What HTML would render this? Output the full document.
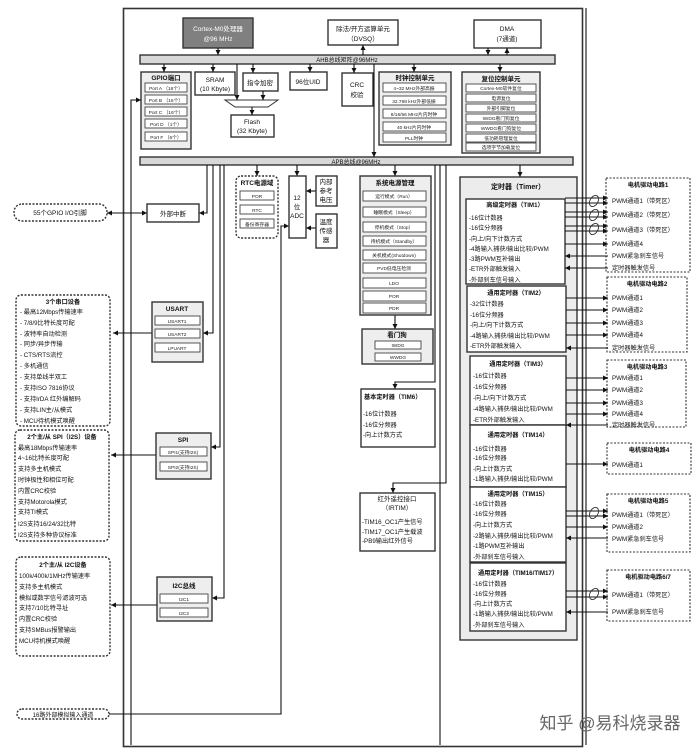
<!DOCTYPE html>
<html><head><meta charset="utf-8"><style>
html,body{margin:0;padding:0;background:#fff;}
svg{display:block;font-family:"Liberation Sans","Noto Sans CJK SC",sans-serif;}
</style></head><body>
<svg width="692" height="754" viewBox="0 0 692 754" xmlns="http://www.w3.org/2000/svg">
<defs>
<marker id="a" markerWidth="6" markerHeight="6" refX="5" refY="3" orient="auto" markerUnits="userSpaceOnUse"><path d="M0,0.5 L5,3 L0,5.5z" fill="#111"/></marker>
</defs>
<g stroke="#333" stroke-width="1" fill="none">
<rect x="123.5" y="8.5" width="459" height="738" stroke-width="1.6"/>
</g>
<g stroke="#333" stroke-width="1.4">
<rect x="183" y="18" width="70" height="30" fill="#808080"/>
<rect x="328" y="20" width="70" height="25" fill="#fff"/>
<rect x="474" y="20" width="67" height="28" fill="#fff"/>
<rect x="140" y="55" width="415" height="9" fill="#d8d8d8"/>
<rect x="140" y="157" width="433" height="8" fill="#d8d8d8"/>
<rect x="141" y="72" width="50" height="77" fill="#eee"/>
<rect x="195" y="72" width="40" height="23" fill="#fff"/>
<rect x="243" y="73" width="35" height="18" fill="#fff"/>
<rect x="231" y="115" width="43" height="22" fill="#fff"/>
<rect x="290" y="72" width="37" height="18" fill="#fff"/>
<rect x="342" y="73" width="31" height="33" fill="#fff"/>
<rect x="379" y="72" width="72" height="73" fill="#eee"/>
<rect x="462" y="72" width="78" height="81" fill="#eee"/>
</g>
<path d="M225,100 L278,100 L268,107 L235,107z" fill="#fff" stroke="#333"/>
<g stroke="#444" stroke-width="0.9" fill="#fff">
<rect x="145" y="83" width="42" height="9"/><rect x="145" y="95" width="42" height="9"/><rect x="145" y="107" width="42" height="9"/><rect x="145" y="119" width="42" height="9"/><rect x="145" y="132" width="42" height="9"/>
<rect x="383" y="83" width="63" height="9"/><rect x="383" y="96" width="63" height="9"/><rect x="383" y="109" width="63" height="9"/><rect x="383" y="122" width="63" height="9"/><rect x="383" y="133" width="63" height="9"/>
<rect x="466" y="84" width="70" height="8"/><rect x="466" y="94" width="70" height="8"/><rect x="466" y="104" width="70" height="8"/><rect x="466" y="114" width="70" height="8"/><rect x="466" y="124" width="70" height="8"/><rect x="466" y="134" width="70" height="8"/><rect x="466" y="143" width="70" height="8"/>
</g>
<g font-size="6.5" fill="#111" text-anchor="middle">
<text x="218" y="31" fill="#fff">Cortex-M0处理器</text><text x="218" y="41" fill="#fff">@96 MHz</text>
<text x="363" y="31">除法/开方运算单元</text><text x="363" y="41">（DVSQ）</text>
<text x="507" y="31">DMA</text><text x="507" y="41">(7通道)</text>
<text x="347" y="62" font-size="6">AHB总线矩阵@96MHz</text>
<text x="356" y="164" font-size="6">APB总线@96MHz</text>
<text x="166" y="80" font-weight="bold">GPIO端口</text>
<text x="215" y="82">SRAM</text><text x="215" y="91">(10 Kbyte)</text>
<text x="260" y="85">指令加密</text>
<text x="252" y="124">Flash</text><text x="252" y="133">(32 Kbyte)</text>
<text x="308" y="84">96位UID</text>
<text x="357" y="87">CRC</text><text x="357" y="97">校验</text>
<text x="415" y="80" font-weight="bold">时钟控制单元</text>
<text x="501" y="81" font-weight="bold">复位控制单元</text>
</g>
<g font-size="4.8" fill="#222" text-anchor="middle">
<text x="166" y="90">Port A （16个）</text><text x="166" y="102">Port B （16个）</text><text x="166" y="114">Port C （16个）</text><text x="166" y="126">Port D （1个）</text><text x="166" y="139">Port F （6个）</text>
<text x="414" y="90">4~32 MHz外部高振</text><text x="414" y="103">32.768 kHz外部低振</text><text x="414" y="116">8/16/56 MHz片内时钟</text><text x="414" y="129">40 kHz片内时钟</text><text x="414" y="140">PLL时钟</text>
<text x="501" y="90">Cortex-M0软件复位</text><text x="501" y="100">电源复位</text><text x="501" y="110">外部引脚复位</text><text x="501" y="120">IWDG看门狗复位</text><text x="501" y="130">WWDG看门狗复位</text><text x="501" y="140">低功耗管理复位</text><text x="501" y="149">选项字节加载复位</text>
</g>
<g stroke="#111" stroke-width="1.1" fill="none" marker-end="url(#a)">
<line x1="218" y1="48" x2="218" y2="55"/>
<line x1="363" y1="55" x2="363" y2="45"/>
<line x1="488" y1="48" x2="488" y2="55"/>
<line x1="507" y1="55" x2="507" y2="48"/>
<line x1="164" y1="64" x2="164" y2="72"/>
<line x1="213" y1="64" x2="213" y2="72"/>
<line x1="253" y1="64" x2="253" y2="73"/>
<line x1="310" y1="64" x2="310" y2="72"/>
<line x1="354" y1="64" x2="354" y2="73"/>
<line x1="414" y1="64" x2="414" y2="72"/>
<line x1="500" y1="64" x2="500" y2="72"/>
<line x1="237" y1="64" x2="237" y2="100"/>
<line x1="263" y1="91" x2="263" y2="100"/>
<line x1="252" y1="107" x2="252" y2="115"/>
<line x1="374" y1="64" x2="374" y2="157"/>
<path d="M131,745 L131,100 L141,100"/>
<line x1="257" y1="165" x2="257" y2="176"/>
<line x1="297" y1="165" x2="297" y2="176"/>
<line x1="395" y1="165" x2="395" y2="176"/>
<line x1="520" y1="165" x2="520" y2="177"/>
<path d="M207,165 L207,213 L199,213"/>
<path d="M213,165 L213,333 L203,333"/>
<path d="M224,165 L224,598 L212,598"/>
<path d="M220,165 L220,447 L211,447"/>
<line x1="152" y1="333" x2="113" y2="333"/>
<line x1="156" y1="455" x2="111" y2="455"/>
<line x1="157" y1="605" x2="111" y2="605"/>
<line x1="316" y1="191" x2="306" y2="191"/>
<line x1="316" y1="228" x2="306" y2="228"/>
<path d="M109,714 L281,714 L281,226 L289,226"/>
<line x1="395" y1="315" x2="395" y2="329"/>
<path d="M435,165 L435,382 L395,382 L395,389"/>
<path d="M446,165 L446,483 L393,483 L393,493"/>
</g>
<line x1="440" y1="165" x2="440" y2="745" stroke="#111" stroke-width="1.1"/>
<line x1="586" y1="8" x2="586" y2="745" stroke="#111" stroke-width="1.1"/>
<g stroke="#111" fill="none" marker-end="url(#a)"><line x1="137" y1="213" x2="147" y2="213"/><line x1="137" y1="213" x2="107" y2="213"/></g>
<g stroke="#333" stroke-width="1.4" fill="#fff">
<rect x="147" y="204" width="52" height="18"/>
<rect x="236" y="176" width="42" height="62" rx="5" stroke-dasharray="2,1.5"/>
<rect x="289" y="176" width="17" height="62"/>
<rect x="316" y="176" width="21" height="30"/>
<rect x="316" y="214" width="21" height="34"/>
<rect x="360" y="176" width="71" height="139" fill="#eee"/>
<rect x="362" y="329" width="71" height="35" fill="#eee"/>
<rect x="361" y="389" width="74" height="58"/>
<rect x="360" y="493" width="75" height="58"/>
<rect x="152" y="302" width="51" height="60" fill="#eee"/>
<rect x="156" y="433" width="55" height="46" fill="#eee"/>
<rect x="157" y="577" width="55" height="44" fill="#eee"/>
<rect x="14" y="204" width="93" height="17" rx="8" stroke-dasharray="2,1.5"/>
<rect x="16" y="295" width="94" height="131" rx="5" stroke-dasharray="2,1.5"/>
<rect x="15" y="430" width="94" height="111" rx="5" stroke-dasharray="2,1.5"/>
<rect x="16" y="557" width="94" height="99" rx="5" stroke-dasharray="2,1.5"/>
<rect x="17" y="709" width="92" height="10" rx="5" stroke-dasharray="2,1.5"/>
</g>
<g stroke="#444" stroke-width="0.9" fill="#fff">
<rect x="240" y="191" width="34" height="9"/><rect x="240" y="205" width="34" height="9"/><rect x="240" y="219" width="34" height="9"/>
<rect x="363" y="191" width="63" height="10"/><rect x="363" y="207" width="63" height="10"/><rect x="363" y="222" width="63" height="10"/><rect x="363" y="236" width="63" height="10"/><rect x="363" y="250" width="63" height="10"/><rect x="363" y="263" width="63" height="10"/><rect x="363" y="278" width="63" height="10"/><rect x="363" y="291" width="63" height="10"/><rect x="363" y="303" width="63" height="10"/>
<rect x="375" y="341" width="46" height="8"/><rect x="375" y="353" width="46" height="8"/>
<rect x="155" y="316" width="45" height="9"/><rect x="155" y="329" width="45" height="9"/><rect x="155" y="343" width="45" height="9"/>
<rect x="160" y="447" width="47" height="9"/><rect x="160" y="462" width="47" height="9"/>
<rect x="160" y="594" width="48" height="9"/><rect x="160" y="608" width="48" height="9"/>
</g>
<g font-size="6.5" fill="#111" text-anchor="middle">
<text x="173" y="216">外部中断</text>
<text x="60" y="215">55个GPIO I/O引脚</text>
<text x="257" y="185" font-weight="bold">RTC电源域</text>
<text x="297" y="200">12</text><text x="297" y="209">位</text><text x="297" y="218">ADC</text>
<text x="326" y="184">内部</text><text x="326" y="193">参考</text><text x="326" y="202">电压</text>
<text x="326" y="224">温度</text><text x="326" y="233">传感</text><text x="326" y="242">器</text>
<text x="395" y="185" font-weight="bold">系统电源管理</text>
<text x="397" y="337" font-weight="bold">看门狗</text>
<text x="177" y="311" font-weight="bold">USART</text>
<text x="183" y="442" font-weight="bold">SPI</text>
<text x="184" y="588" font-weight="bold">I2C总线</text>
<text x="397" y="501">红外遥控接口</text><text x="397" y="510">（IRTIM）</text>
<text x="63" y="717" font-size="6">16路外部模拟输入通道</text>
</g>
<g font-size="4.8" fill="#222" text-anchor="middle">
<text x="257" y="198">POR</text><text x="257" y="212">RTC</text><text x="257" y="226">备份寄存器</text>
<text x="394" y="198">运行模式（Run）</text><text x="394" y="214">睡眠模式（Sleep）</text><text x="394" y="229">停机模式（Stop）</text><text x="394" y="243">待机模式（Standby）</text><text x="394" y="257">关机模式(Shutdown)</text><text x="394" y="270">PVD低电压检测</text><text x="394" y="285">LDO</text><text x="394" y="298">POR</text><text x="394" y="310">PDR</text>
<text x="398" y="347">IWDG</text><text x="398" y="359">WWDG</text>
<text x="177" y="323">USART1</text><text x="177" y="336">USART2</text><text x="177" y="350">LPUART</text>
<text x="183" y="454">SPI1(支持I2S)</text><text x="183" y="469">SPI2(支持I2S)</text>
<text x="184" y="601">I2C1</text><text x="184" y="615">I2C2</text>
</g>
<g font-size="6.2" fill="#111">
<text x="364" y="399" font-weight="bold">基本定时器（TIM6）</text>
<text x="363" y="416">-16位计数器</text><text x="363" y="427">-16位分频器</text><text x="363" y="437">-向上计数方式</text>
<text x="362" y="524">-TIM16_OC1产生信号</text><text x="362" y="534">-TIM17_OC1产生载波</text><text x="362" y="543">-PB9输出红外信号</text>
<text x="63" y="304" font-weight="bold" text-anchor="middle">3个串口设备</text>
<text x="20" y="314">- 最高12Mbps传输速率</text><text x="20" y="325">- 7/8/9比特长度可配</text><text x="20" y="336">- 波特率自动检测</text><text x="20" y="346">- 同步/异步传输</text><text x="20" y="357">- CTS/RTS流控</text><text x="20" y="368">- 多机通信</text><text x="20" y="379">- 支持单线半双工</text><text x="20" y="390">- 支持ISO 7816协议</text><text x="20" y="401">- 支持IrDA 红外编解码</text><text x="20" y="412">- 支持LIN主/从模式</text><text x="20" y="423">- MCU待机模式唤醒</text>
<text x="62" y="439" font-weight="bold" text-anchor="middle">2个主/从 SPI（I2S）设备</text>
<text x="18" y="450">最高18Mbps传输速率</text><text x="18" y="460">4~16比特长度可配</text><text x="18" y="471">支持多主机模式</text><text x="18" y="482">时钟极性和相位可配</text><text x="18" y="493">内置CRC校验</text><text x="18" y="504">支持Motorola模式</text><text x="18" y="514">支持TI模式</text><text x="18" y="526">I2S支持16/24/32比特</text><text x="18" y="537">I2S支持多种协议标准</text>
<text x="63" y="567" font-weight="bold" text-anchor="middle">2个主/从 I2C设备</text>
<text x="19" y="578">100k/400k/1MHz传输速率</text><text x="19" y="589">支持多主机模式</text><text x="19" y="600">模拟或数字信号滤波可选</text><text x="19" y="610">支持7/10比特寻址</text><text x="19" y="621">内置CRC校验</text><text x="19" y="632">支持SMBus报警输出</text><text x="19" y="643">MCU待机模式唤醒</text>
</g>
<g stroke="#333" stroke-width="1.4" fill="#fff">
<rect x="460" y="177" width="117" height="463" fill="#ececec"/>
<rect x="466" y="199" width="99" height="85"/>
<rect x="467" y="286" width="99" height="66"/>
<rect x="470" y="356" width="96" height="69"/>
<rect x="470" y="425" width="96" height="62"/>
<rect x="470" y="487" width="96" height="75"/>
<rect x="470" y="563" width="96" height="68"/>
</g>
<g stroke="#333" stroke-width="1.1" fill="#fff" stroke-dasharray="2,1.5">
<rect x="606" y="178" width="84" height="94"/>
<rect x="607" y="277" width="80" height="75"/>
<rect x="607" y="360" width="79" height="67"/>
<rect x="607" y="443" width="84" height="31"/>
<rect x="607" y="494" width="83" height="58"/>
<rect x="607" y="570" width="83" height="51"/>
</g>
<g font-size="6.2" fill="#111">
<text x="518" y="189" font-weight="bold" text-anchor="middle" font-size="7">定时器（Timer）</text>
<text x="515" y="207" font-weight="bold" text-anchor="middle">高级定时器（TIM1）</text>
<text x="469" y="220">-16位计数器</text><text x="469" y="230">-16位分频器</text><text x="469" y="241">-向上/向下计数方式</text><text x="469" y="251">-4路输入捕获/输出比较/PWM</text><text x="469" y="261">-3路PWM互补输出</text><text x="469" y="271">-ETR外部触发输入</text><text x="469" y="282">-外部刹车信号输入</text>
<text x="516" y="295" font-weight="bold" text-anchor="middle">通用定时器（TIM2）</text>
<text x="470" y="306">-32位计数器</text><text x="470" y="317">-16位分频器</text><text x="470" y="327">-向上/向下计数方式</text><text x="470" y="338">-4路输入捕获/输出比较/PWM</text><text x="470" y="348">-ETR外部触发输入</text>
<text x="518" y="366" font-weight="bold" text-anchor="middle">通用定时器（TIM3）</text>
<text x="473" y="378">-16位计数器</text><text x="473" y="389">-16位分频器</text><text x="473" y="400">-向上/向下计数方式</text><text x="473" y="411">-4路输入捕获/输出比较/PWM</text><text x="473" y="422">-ETR外部触发输入</text>
<text x="518" y="437" font-weight="bold" text-anchor="middle">通用定时器（TIM14）</text>
<text x="473" y="451">-16位计数器</text><text x="473" y="460">-16位分频器</text><text x="473" y="471">-向上计数方式</text><text x="473" y="481">-1路输入捕获/输出比较/PWM</text>
<text x="518" y="496" font-weight="bold" text-anchor="middle">通用定时器（TIM15）</text>
<text x="473" y="506">-16位计数器</text><text x="473" y="516">-16位分频器</text><text x="473" y="527">-向上计数方式</text><text x="473" y="538">-2路输入捕获/输出比较/PWM</text><text x="473" y="548">-1路PWM互补输出</text><text x="473" y="559">-外部刹车信号输入</text>
<text x="518" y="575" font-weight="bold" text-anchor="middle">通用定时器（TIM16/TIM17）</text>
<text x="473" y="586">-16位计数器</text><text x="473" y="596">-16位分频器</text><text x="473" y="606">-向上计数方式</text><text x="473" y="616">-1路输入捕获/输出比较/PWM</text><text x="473" y="627">-外部刹车信号输入</text>
</g>
<g font-size="6.2" fill="#111">
<text x="648" y="187" font-weight="bold" text-anchor="middle">电机驱动电路1</text>
<text x="612" y="203">PWM通道1（带死区）</text><text x="612" y="217">PWM通道2（带死区）</text><text x="612" y="232">PWM通道3（带死区）</text><text x="612" y="246">PWM通道4</text><text x="612" y="258">PWM紧急刹车信号</text><text x="612" y="270">定时器触发信号</text>
<text x="647" y="286" font-weight="bold" text-anchor="middle">电机驱动电路2</text>
<text x="612" y="300">PWM通道1</text><text x="612" y="312">PWM通道2</text><text x="612" y="325">PWM通道3</text><text x="612" y="337">PWM通道4</text><text x="612" y="350">定时器触发信号</text>
<text x="647" y="369" font-weight="bold" text-anchor="middle">电机驱动电路3</text>
<text x="612" y="380">PWM通道1</text><text x="612" y="392">PWM通道2</text><text x="612" y="405">PWM通道3</text><text x="612" y="416">PWM通道4</text><text x="612" y="427">定时器触发信号</text>
<text x="649" y="452" font-weight="bold" text-anchor="middle">电机驱动电路4</text>
<text x="612" y="467">PWM通道1</text>
<text x="648" y="503" font-weight="bold" text-anchor="middle">电机驱动电路5</text>
<text x="612" y="517">PWM通道1（带死区）</text><text x="612" y="529">PWM通道2</text><text x="612" y="541">PWM紧急刹车信号</text>
<text x="648" y="579" font-weight="bold" text-anchor="middle">电机驱动电路6/7</text>
<text x="612" y="597">PWM通道1（带死区）</text><text x="612" y="614">PWM紧急刹车信号</text>
</g>
<g stroke="#111" fill="none" marker-end="url(#a)">
<line x1="565" y1="198" x2="608" y2="198"/><line x1="565" y1="203" x2="608" y2="203"/>
<line x1="565" y1="212" x2="608" y2="212"/><line x1="565" y1="217" x2="608" y2="217"/>
<line x1="565" y1="226" x2="608" y2="226"/><line x1="565" y1="231" x2="608" y2="231"/>
<line x1="565" y1="244" x2="608" y2="244"/>
<line x1="608" y1="256" x2="565" y2="256"/><line x1="608" y1="268" x2="565" y2="268"/>
<line x1="566" y1="298" x2="608" y2="298"/><line x1="566" y1="310" x2="608" y2="310"/><line x1="566" y1="323" x2="608" y2="323"/><line x1="566" y1="335" x2="608" y2="335"/><line x1="608" y1="348" x2="566" y2="348"/>
<line x1="566" y1="378" x2="608" y2="378"/><line x1="566" y1="390" x2="608" y2="390"/><line x1="566" y1="403" x2="608" y2="403"/><line x1="566" y1="414" x2="608" y2="414"/><line x1="608" y1="425" x2="566" y2="425"/>
<line x1="566" y1="464" x2="608" y2="464"/>
<line x1="566" y1="511" x2="608" y2="511"/><line x1="566" y1="516" x2="608" y2="516"/><line x1="566" y1="527" x2="608" y2="527"/><line x1="608" y1="538" x2="566" y2="538"/>
<line x1="566" y1="591" x2="608" y2="591"/><line x1="566" y1="597" x2="608" y2="597"/><line x1="608" y1="612" x2="566" y2="612"/>
</g>
<g stroke="#333" fill="none" stroke-width="0.9">
<ellipse cx="594" cy="201" rx="4" ry="6" transform="rotate(30 594 201)"/>
<ellipse cx="594" cy="215" rx="4" ry="6" transform="rotate(30 594 215)"/>
<ellipse cx="594" cy="229" rx="4" ry="6" transform="rotate(30 594 229)"/>
<ellipse cx="594" cy="513" rx="4" ry="6" transform="rotate(30 594 513)"/>
<ellipse cx="594" cy="594" rx="4" ry="6" transform="rotate(30 594 594)"/>
</g>
<text x="610" y="729" font-size="17" fill="#666" text-anchor="middle">知乎 @易科烧录器</text>
</svg>
</body></html>
